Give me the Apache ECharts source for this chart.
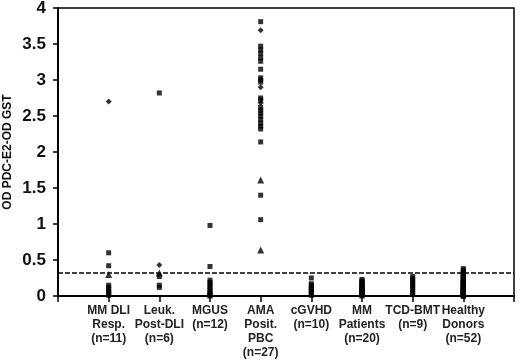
<!DOCTYPE html>
<html>
<head>
<meta charset="utf-8">
<script src="https://cdn.jsdelivr.net/npm/echarts@6/dist/echarts.min.js"></script>
<style>
  html, body { margin: 0; padding: 0; background: #fff; }
  #chart { width: 520px; height: 361px; }
</style>
</head>
<body>
<div id="chart"></div>
<script>
// group labels, one per x position 1..8
const groupLabels = [
  'MM DLI\nResp.\n(n=11)',
  'Leuk.\nPost-DLI\n(n=6)',
  'MGUS\n(n=12)',
  'AMA\nPosit.\nPBC\n(n=27)',
  'cGVHD\n(n=10)',
  'MM\nPatients\n(n=20)',
  'TCD-BMT\n(n=9)',
  'Healthy\nDonors\n(n=52)'
];
const yTicks = [0, 0.5, 1, 1.5, 2, 2.5, 3, 3.5, 4];
const cutoff = 0.32;

// points drawn as squares: [group, OD]
const squarePts = [
  [1, 0.60], [1, 0.42], [1, 0.15], [1, 0.12], [1, 0.09], [1, 0.06], [1, 0.04], [1, 0.02], [1, 0.01],
  [2, 2.82], [2, 0.27], [2, 0.15], [2, 0.12],
  [3, 0.98], [3, 0.41], [3, 0.22], [3, 0.19], [3, 0.16], [3, 0.13], [3, 0.10], [3, 0.07], [3, 0.04], [3, 0.02], [3, 0.01], [3, 0.00],
  [4, 3.81], [4, 3.47], [4, 3.42], [4, 3.37], [4, 3.31], [4, 3.26], [4, 3.15], [4, 3.03], [4, 3.00], [4, 2.97],
  [4, 2.75], [4, 2.72], [4, 2.62], [4, 2.58], [4, 2.54], [4, 2.50], [4, 2.45], [4, 2.40], [4, 2.36], [4, 2.32],
  [4, 2.14], [4, 1.40], [4, 1.06],
  [5, 0.25], [5, 0.17], [5, 0.15], [5, 0.12], [5, 0.10], [5, 0.08], [5, 0.06], [5, 0.04], [5, 0.02], [5, 0.01],
  [6, 0.23], [6, 0.21], [6, 0.20], [6, 0.18], [6, 0.17], [6, 0.15], [6, 0.14], [6, 0.13], [6, 0.12], [6, 0.10],
  [6, 0.09], [6, 0.08], [6, 0.07], [6, 0.06], [6, 0.05], [6, 0.04], [6, 0.03], [6, 0.02], [6, 0.01], [6, 0.00],
  [7, 0.27], [7, 0.24], [7, 0.21], [7, 0.18], [7, 0.15], [7, 0.12], [7, 0.09], [7, 0.05], [7, 0.02],
  [8, 0.38], [8, 0.36], [8, 0.34], [8, 0.33], [8, 0.31], [8, 0.30], [8, 0.29], [8, 0.28], [8, 0.27], [8, 0.26],
  [8, 0.25], [8, 0.24], [8, 0.23], [8, 0.22], [8, 0.21], [8, 0.20], [8, 0.20], [8, 0.19], [8, 0.18], [8, 0.18],
  [8, 0.17], [8, 0.16], [8, 0.16], [8, 0.15], [8, 0.14], [8, 0.14], [8, 0.13], [8, 0.12], [8, 0.12], [8, 0.11],
  [8, 0.10], [8, 0.10], [8, 0.09], [8, 0.09], [8, 0.08], [8, 0.07], [8, 0.07], [8, 0.06], [8, 0.06], [8, 0.05],
  [8, 0.05], [8, 0.04], [8, 0.04], [8, 0.03], [8, 0.03], [8, 0.02], [8, 0.02], [8, 0.01], [8, 0.01], [8, 0.00],
  [8, 0.00], [8, 0.00]
];
// points drawn as diamonds
const diamondPts = [
  [1, 2.70], [2, 0.43], [4, 3.69], [4, 2.90], [4, 2.68]
];
// points drawn as triangles
const trianglePts = [
  [1, 0.30], [2, 0.32], [4, 1.61], [4, 0.64]
];

const chart = echarts.init(document.getElementById('chart'));
const fontFam = '"Liberation Sans", Arial, sans-serif';

const option = {
  animation: false,
  backgroundColor: '#fff',
  grid: {
    left: 58, top: 8, right: 6, bottom: 65,
    containLabel: false, outerBoundsMode: 'none',
    show: true, borderColor: '#000', borderWidth: 1.5, backgroundColor: 'transparent'
  },
  xAxis: {
    type: 'value', min: 0, max: 9, interval: 1,
    splitLine: { show: false },
    axisLine: { show: true, onZero: false, lineStyle: { color: '#000', width: 2 } },
    axisTick: { show: true, inside: false, length: 6, lineStyle: { color: '#000', width: 1.5 } },
    axisLabel: {
      margin: 8, hideOverlap: false,
      color: '#222', fontFamily: fontFam, fontWeight: 'bold', fontSize: 12, lineHeight: 14,
      formatter: v => (v >= 1 && v <= 8) ? groupLabels[v - 1] : ''
    }
  },
  yAxis: {
    type: 'value', min: yTicks[0], max: yTicks[yTicks.length - 1], interval: 0.5,
    name: 'OD PDC-E2-OD GST', nameLocation: 'middle', nameGap: 44, nameMoveOverlap: false,
    nameTextStyle: { color: '#111', fontFamily: fontFam, fontWeight: 'bold', fontSize: 12 },
    splitLine: { show: false },
    axisLine: { show: true, lineStyle: { color: '#000', width: 2 } },
    axisTick: { show: true, length: 5, lineStyle: { color: '#000', width: 1.5 } },
    axisLabel: { margin: 12, color: '#111', fontFamily: fontFam, fontWeight: 'bold', fontSize: 17 }
  },
  series: [
    {
      type: 'scatter', symbol: 'rect', symbolSize: 5,
      itemStyle: { color: '#000' },
      data: squarePts,
      markLine: {
        silent: true, symbol: 'none', label: { show: false },
        lineStyle: { color: '#000', type: [5, 2], width: 1.5 },
        data: [{ yAxis: cutoff }]
      }
    },
    {
      type: 'scatter', symbol: 'diamond', symbolSize: 6,
      itemStyle: { color: '#000' },
      data: diamondPts
    },
    {
      type: 'scatter', symbol: 'triangle', symbolSize: 7,
      itemStyle: { color: '#000' },
      data: trianglePts
    }
  ]
};
chart.setOption(option);
</script>
</body>
</html>
